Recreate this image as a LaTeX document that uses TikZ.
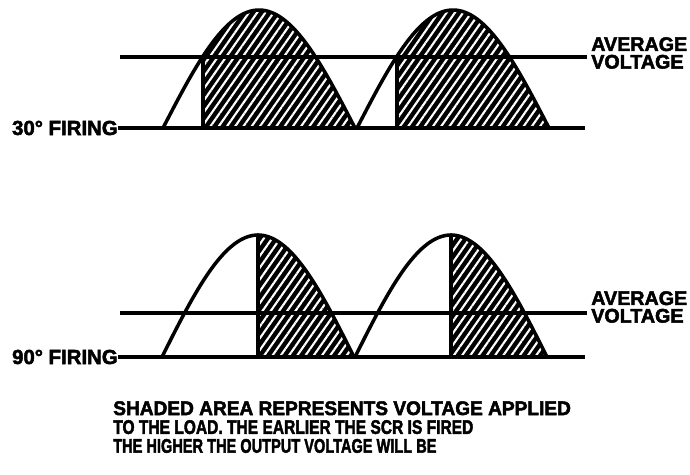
\documentclass[tikz,border=0pt]{standalone}
\usepackage{fontspec}
\setmainfont{Liberation Sans}[BoldFeatures={FakeBold=2.5}]
\usetikzlibrary{positioning,patterns.meta}
\tikzset{
  zeroline/.style={line width=3.2pt},
  avgline/.style={line width=2.4pt, shorten >=3pt},
  wave/.style={line width=2.5pt, line join=round, line cap=round},
  hatched/.style={fill=black, postaction={pattern={Lines[angle=55,distance=4.8pt,line width=1.5pt]}, pattern color=white}},
  firelabel/.style={font=\bfseries\fontsize{14.5}{14.5}\selectfont, inner sep=0pt, anchor=east},
  avglabel/.style={font=\bfseries\fontsize{14}{12.5}\selectfont, inner sep=0pt, anchor=west, align=left},
  notetext/.style={font=\bfseries\fontsize{14}{13.4}\selectfont, inner sep=0pt, anchor=north west, align=left}
}
\begin{document}
\begin{tikzpicture}[x=0.025cm, y=-0.025cm]
  \useasboundingbox (0,0) rectangle (690,474);
  % half waves: base / amplitude / firing offset / start
  \foreach \yb/\amp/\fire/\a [evaluate=\a as \s using \a+\fire, evaluate=\a as \e using \a+192] in
      {128/118/40/163, 128/118/40/357, 357/122/96/162, 357/122/96/355} {
    \fill[hatched] (\s,\yb) -- plot[domain=\s:\e, samples=50] (\x,{\yb-\amp*sin((\x-\a)/192*180)}) -- cycle;
    \draw[wave] plot[domain=\a:\e, samples=70] (\x,{\yb-\amp*sin((\x-\a)/192*180)});
    \draw[wave] (\s,\yb) -- (\s,{\yb-\amp*sin(\fire/192*180)});
  }
  % labels and lines
  \node[firelabel] (f30) at (118,128) {30° FIRING};
  \node[firelabel] (f90) at (118,357) {90° FIRING};
  \coordinate (e30) at (585,128);
  \coordinate (e90) at (585,357);
  \draw[zeroline] (f30.east) -- (e30);
  \draw[zeroline] (f90.east) -- (e90);
  \node[avglabel] (v30) at (591,53) {AVERAGE\\VOLTAGE};
  \node[avglabel] (v90) at (591,307) {AVERAGE\\VOLTAGE};
  \coordinate (s30) at (120,57);
  \coordinate (s90) at (120,313);
  \draw[avgline] (s30) -- (s30 -| v30.west);
  \draw[avgline] (s90) -- (s90 -| v90.west);
  \node[notetext] (note) at (113,401) {\scalebox{0.97}[1]{SHADED AREA REPRESENTS VOLTAGE APPLIED}\\
    \scalebox{0.79}[1]{TO THE LOAD. THE EARLIER THE SCR IS FIRED}\\
    \scalebox{0.74}[1]{THE HIGHER THE OUTPUT VOLTAGE WILL BE}};
\end{tikzpicture}
\end{document}
